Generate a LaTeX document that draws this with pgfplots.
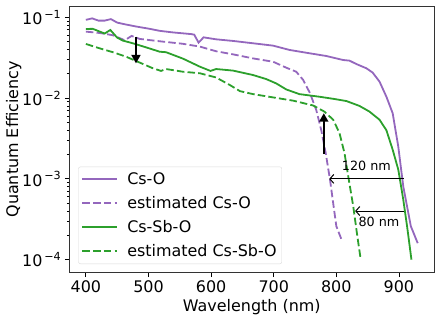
\documentclass[border=0pt]{standalone}
\usepackage{fontspec}
\setmainfont{DejaVu Sans}
\usepackage{pgfplots}
\pgfplotsset{compat=1.18}
\usetikzlibrary{arrows.meta,calc}

\definecolor{mpurple}{HTML}{9467BD}
\definecolor{mgreen}{HTML}{2CA02C}

\begin{document}
\begin{tikzpicture}
\begin{axis}[
  width=365bp, height=266.7bp, scale only axis,
  xmin=373.5, xmax=956.5,
  ymode=log, ymin=6.9e-5, ymax=0.138,
  xtick={400,500,600,700,800,900},
  ytick={1e-4,1e-3,1e-2,1e-1},
  yticklabels={10\textsuperscript{\,−4},10\textsuperscript{\,−3},10\textsuperscript{\,−2},10\textsuperscript{\,−1}},
  /pgf/number format/assume math mode=true,
  tick label style={font=\fontsize{16}{19}\selectfont},
  label style={font=\fontsize{16}{19}\selectfont},
  xlabel={Wavelength (nm)}, ylabel={Quantum Efficiency},
  ylabel style={yshift=-6bp},
  tick align=outside, xtick pos=bottom, ytick pos=left,
  major tick length=4.5bp, minor tick length=2.5bp,
  every tick/.style={black, line width=0.8bp},
  axis line style={line width=0.8bp, black!80},
  legend cell align=left,
  legend style={at={(0.0247,0.0326)}, anchor=south west,
    draw=black!15, rounded corners=2bp, fill=white,
    font=\fontsize{16}{19}\selectfont, row sep=6.3bp, inner xsep=3bp, inner ysep=4bp,
    /tikz/every odd column/.append style={column sep=7bp}},
  legend image code/.code={\draw[#1, line cap=butt] (0bp,0.4bp) -- (35bp,0.4bp);},
  every axis plot/.append style={line width=1.8bp},
]
\addplot[mpurple] coordinates {
(400,0.093) (410,0.097) (420,0.091) (430,0.091) (440,0.095) (450,0.086) (462,0.082)
(480,0.077) (502,0.072) (518,0.068) (539,0.065) (568,0.062) (573,0.061) (580,0.0486)
(588,0.0565) (608,0.0534) (635,0.051) (667,0.0477) (699,0.0446) (725,0.0395)
(758,0.0358) (784,0.0332) (811,0.0296) (821,0.0291) (832,0.0264) (848,0.0234)
(858,0.0207) (869,0.016) (880,0.0104) (890,0.0065) (899,0.0025) (907,8e-4)
(919,2.6e-4) (930,1.6e-4)};
\addlegendentry{Cs-O}
\addplot[mpurple, dash pattern=on 7.5bp off 3.2bp] coordinates {
(400,0.0665) (422,0.064) (443,0.060) (462,0.052) (473,0.0588) (486,0.054) (518,0.0505)
(555,0.047) (582,0.0434) (608,0.038) (635,0.0348) (667,0.031) (699,0.0282)
(720,0.0238) (736,0.0212) (747,0.0168) (758,0.0115) (768,0.0071) (776,0.004)
(783,0.0021) (790,9.7e-4) (795,5e-4) (800,2.6e-4) (808,1.8e-4)};
\addlegendentry{estimated Cs-O}
\addplot[mgreen] coordinates {
(400,0.0717) (411,0.072) (430,0.063) (439,0.0697) (450,0.056) (459,0.0515) (475,0.0477)
(496,0.0425) (518,0.0375) (528,0.037) (555,0.0308) (582,0.0245) (599,0.0217)
(608,0.0229) (635,0.0219) (667,0.0193) (688,0.0172) (704,0.0152) (720,0.0128)
(741,0.0112) (773,0.0104) (795,0.0098) (816,0.0092) (837,0.008) (853,0.0068)
(869,0.0054) (880,0.004) (890,0.0023) (899,0.0013) (907,5.5e-4) (913,2.6e-4) (920,1e-4)};
\addlegendentry{Cs-Sb-O}
\addplot[mgreen, dash pattern=on 7.5bp off 3.2bp] coordinates {
(400,0.0468) (422,0.0413) (443,0.037) (464,0.0326) (486,0.0275) (507,0.0234)
(520,0.0217) (528,0.0229) (555,0.0212) (582,0.0203) (608,0.018) (630,0.0145)
(646,0.0122) (667,0.0112) (699,0.0102) (731,0.0093) (763,0.0081) (781,0.0068)
(795,0.0054) (805,0.0037) (813,0.0021) (820,9.7e-4) (827,4.6e-4) (833,2.1e-4) (839,1e-4)};
\addlegendentry{estimated Cs-Sb-O}

\draw[-{Triangle[length=8.5bp,width=9bp]}, line width=1.8bp] (axis cs:480,0.0577) -- (axis cs:480,0.0269);
\draw[-{Triangle[length=8.5bp,width=9bp]}, line width=1.8bp] (axis cs:780,0.00203) -- (axis cs:780,0.0065);
\draw[{Straight Barb[length=4bp,width=9bp]}-, line width=1bp] (axis cs:788.6,1e-3) -- (axis cs:908,1e-3);
\draw[{Straight Barb[length=4bp,width=9bp]}-, line width=1bp] (axis cs:830,4e-4) -- (axis cs:908,4e-4);
\node[font=\fontsize{12.8}{15}\selectfont] at (axis cs:848,1.46e-3) {120 nm};
\node[font=\fontsize{12.8}{15}\selectfont] at (axis cs:868,2.9e-4) {80 nm};
\end{axis}
\pgfresetboundingbox
\path ($(current axis.south west)+(-69.3bp,-47.3bp)$) rectangle ($(current axis.north east)+(6.7bp,6bp)$);
\end{tikzpicture}
\end{document}
